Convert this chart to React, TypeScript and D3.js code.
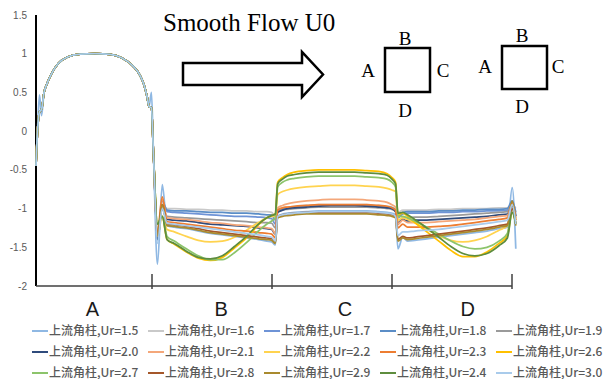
import React from 'react';
import * as d3 from 'd3';

// chart frame
const W = 604;
const H = 379;

// faces of the square cylinder along the x axis
const faceNames = ['A', 'B', 'C', 'D'];
const faceLabelPos = [0.47, 1.54, 2.57, 3.59];
const yTicks = [-2, -1.5, -1, -0.5, 0, 0.5, 1, 1.5];

// sample positions (fraction of a face)
const posA = [0, 0.0125, 0.029, 0.046, 0.067, 0.091, 0.125, 0.183, 0.258, 0.366, 0.49, 0.615, 0.715, 0.807, 0.865, 0.898, 0.923, 0.94, 0.96, 0.977];
const posFace = [0.01, 0.05, 0.09, 0.15, 0.25, 0.35, 0.45, 0.55, 0.65, 0.75, 0.85, 0.92, 0.96, 0.99];

// face A is nearly the same for every case
const faceA = [-0.45, 0.0, 0.25, 0.28, 0.5, 0.61, 0.73, 0.87, 0.955, 0.995, 1.0, 0.99, 0.945, 0.84, 0.72, 0.6, 0.45, 0.32, 0.3, -0.3];
const faceASpike = [-0.45, 0.0, 0.47, 0.2, 0.5, 0.61, 0.73, 0.87, 0.955, 0.995, 1.0, 0.99, 0.945, 0.84, 0.72, 0.6, 0.45, 0.32, 0.5, -0.3];

const seriesNames = [
  '上流角柱,Ur=1.5', '上流角柱,Ur=1.6', '上流角柱,Ur=1.7', '上流角柱,Ur=1.8', '上流角柱,Ur=1.9',
  '上流角柱,Ur=2.0', '上流角柱,Ur=2.1', '上流角柱,Ur=2.2', '上流角柱,Ur=2.3', '上流角柱,Ur=2.6',
  '上流角柱,Ur=2.7', '上流角柱,Ur=2.8', '上流角柱,Ur=2.9', '上流角柱,Ur=2.4', '上流角柱,Ur=3.0',
];
const seriesColors = [
  '#8FB8E3', '#C9C9C9', '#6E93D6', '#5B8DC6', '#9A9A9A',
  '#2F4B7C', '#F4A77A', '#FFD34F', '#ED7D31', '#FFC000',
  '#8CC46B', '#A5572A', '#A98A2E', '#5E8D3E', '#A9CBEB',
];

const faceAValues = [
  faceASpike, faceA, faceA, faceA, faceA,
  faceA, faceA, faceA, faceA, faceA,
  faceA, faceA, faceA, faceA, faceA,
];

const faceBValues = [
  [-1.72, -0.69, -1.22, -1.24, -1.26, -1.29, -1.32, -1.34, -1.36, -1.38, -1.4, -1.42, -1.43, -1.47],
  [-1.3, -0.95, -1.0, -1.0, -1.01, -1.01, -1.02, -1.02, -1.03, -1.03, -1.04, -1.04, -1.05, -1.1],
  [-1.35, -0.95, -1.04, -1.05, -1.06, -1.07, -1.08, -1.09, -1.1, -1.1, -1.11, -1.12, -1.13, -1.2],
  [-1.35, -0.9, -1.02, -1.03, -1.03, -1.04, -1.05, -1.05, -1.06, -1.06, -1.07, -1.08, -1.08, -1.15],
  [-1.4, -1.0, -1.1, -1.11, -1.12, -1.13, -1.14, -1.15, -1.16, -1.17, -1.18, -1.18, -1.19, -1.25],
  [-1.4, -1.0, -1.14, -1.15, -1.16, -1.18, -1.2, -1.21, -1.22, -1.23, -1.25, -1.26, -1.27, -1.33],
  [-1.35, -0.88, -1.12, -1.13, -1.14, -1.16, -1.18, -1.19, -1.21, -1.22, -1.24, -1.25, -1.26, -1.32],
  [-1.35, -1.1, -1.27, -1.3, -1.36, -1.41, -1.43, -1.42, -1.37, -1.28, -1.18, -1.12, -1.1, -1.1],
  [-1.3, -0.85, -1.17, -1.18, -1.2, -1.22, -1.24, -1.26, -1.28, -1.29, -1.31, -1.32, -1.33, -1.38],
  [-1.2, -1.1, -1.4, -1.46, -1.56, -1.64, -1.67, -1.63, -1.51, -1.38, -1.21, -1.12, -1.09, -1.07],
  [-1.2, -1.1, -1.36, -1.42, -1.52, -1.61, -1.66, -1.66, -1.57, -1.44, -1.29, -1.2, -1.16, -1.12],
  [-1.35, -0.95, -1.2, -1.21, -1.23, -1.26, -1.29, -1.31, -1.33, -1.35, -1.37, -1.38, -1.39, -1.43],
  [-1.35, -0.95, -1.22, -1.23, -1.25, -1.28, -1.31, -1.33, -1.35, -1.37, -1.39, -1.4, -1.41, -1.45],
  [-1.2, -1.1, -1.4, -1.45, -1.55, -1.63, -1.65, -1.61, -1.49, -1.36, -1.2, -1.12, -1.09, -1.07],
  [-1.45, -1.0, -1.19, -1.2, -1.22, -1.24, -1.26, -1.28, -1.3, -1.32, -1.34, -1.36, -1.37, -1.42],
];

const faceCValues = [
  [-1.1, -1.07, -1.06, -1.05, -1.04, -1.03, -1.03, -1.03, -1.03, -1.03, -1.04, -1.05, -1.06, -1.08],
  [-1.0, -0.99, -0.98, -0.97, -0.96, -0.95, -0.95, -0.95, -0.95, -0.95, -0.96, -0.97, -0.98, -1.0],
  [-1.03, -1.01, -1.0, -0.99, -0.98, -0.97, -0.97, -0.97, -0.97, -0.97, -0.98, -0.99, -1.0, -1.03],
  [-1.02, -1.0, -0.99, -0.98, -0.97, -0.96, -0.96, -0.96, -0.96, -0.96, -0.97, -0.98, -0.99, -1.02],
  [-1.04, -1.02, -1.01, -1.0, -0.99, -0.98, -0.98, -0.98, -0.98, -0.98, -0.99, -1.0, -1.01, -1.04],
  [-1.05, -1.02, -1.0, -0.99, -0.98, -0.97, -0.96, -0.96, -0.96, -0.97, -0.98, -0.99, -1.0, -1.04],
  [-0.99, -0.96, -0.94, -0.92, -0.9, -0.89, -0.88, -0.88, -0.88, -0.89, -0.9, -0.92, -0.95, -0.98],
  [-0.82, -0.78, -0.76, -0.74, -0.72, -0.71, -0.7, -0.7, -0.7, -0.71, -0.72, -0.74, -0.76, -0.78],
  [-1.02, -0.99, -0.98, -0.97, -0.96, -0.95, -0.95, -0.95, -0.95, -0.95, -0.96, -0.97, -0.99, -1.02],
  [-0.66, -0.6, -0.56, -0.53, -0.51, -0.5, -0.5, -0.5, -0.5, -0.51, -0.52, -0.55, -0.6, -0.66],
  [-0.72, -0.66, -0.63, -0.61, -0.59, -0.58, -0.58, -0.58, -0.58, -0.59, -0.6, -0.62, -0.66, -0.72],
  [-1.1, -1.08, -1.07, -1.06, -1.05, -1.05, -1.05, -1.05, -1.05, -1.05, -1.06, -1.07, -1.08, -1.1],
  [-1.12, -1.1, -1.09, -1.08, -1.07, -1.07, -1.07, -1.07, -1.07, -1.07, -1.08, -1.09, -1.1, -1.12],
  [-0.68, -0.62, -0.58, -0.56, -0.54, -0.53, -0.53, -0.53, -0.53, -0.54, -0.55, -0.57, -0.62, -0.68],
  [-1.1, -1.08, -1.07, -1.06, -1.05, -1.04, -1.04, -1.04, -1.04, -1.04, -1.05, -1.06, -1.07, -1.1],
];

const faceDValues = [
  [-1.52, -1.37, -1.42, -1.41, -1.39, -1.37, -1.35, -1.33, -1.31, -1.29, -1.26, -1.24, -0.73, -1.52],
  [-1.05, -1.02, -1.02, -1.02, -1.02, -1.01, -1.01, -1.0, -1.0, -1.0, -0.99, -0.99, -0.95, -1.0],
  [-1.12, -1.07, -1.06, -1.06, -1.06, -1.05, -1.05, -1.04, -1.04, -1.03, -1.03, -1.02, -0.95, -1.08],
  [-1.1, -1.05, -1.04, -1.04, -1.04, -1.03, -1.03, -1.02, -1.02, -1.01, -1.01, -1.0, -0.9, -1.05],
  [-1.18, -1.12, -1.12, -1.11, -1.11, -1.1, -1.09, -1.08, -1.07, -1.06, -1.05, -1.04, -0.95, -1.1],
  [-1.2, -1.14, -1.16, -1.15, -1.15, -1.14, -1.13, -1.12, -1.11, -1.1, -1.08, -1.07, -0.97, -1.1],
  [-1.2, -1.15, -1.18, -1.18, -1.18, -1.17, -1.16, -1.15, -1.14, -1.12, -1.1, -1.09, -0.95, -1.12],
  [-1.15, -1.12, -1.14, -1.18, -1.27, -1.35, -1.41, -1.43, -1.41, -1.36, -1.28, -1.22, -1.0, -1.15],
  [-1.25, -1.2, -1.24, -1.24, -1.24, -1.23, -1.22, -1.2, -1.18, -1.16, -1.14, -1.12, -0.92, -1.15],
  [-1.08, -1.06, -1.1, -1.18, -1.3, -1.42, -1.54, -1.62, -1.62, -1.56, -1.45, -1.35, -1.05, -1.2],
  [-1.1, -1.1, -1.12, -1.16, -1.24, -1.33, -1.42, -1.49, -1.52, -1.5, -1.42, -1.32, -1.0, -1.2],
  [-1.4, -1.36, -1.38, -1.37, -1.35, -1.33, -1.31, -1.29, -1.27, -1.25, -1.22, -1.2, -1.0, -1.2],
  [-1.42, -1.38, -1.4, -1.39, -1.37, -1.35, -1.33, -1.31, -1.29, -1.27, -1.24, -1.22, -0.9, -1.22],
  [-1.06, -1.05, -1.08, -1.14, -1.25, -1.37, -1.49, -1.58, -1.61, -1.58, -1.48, -1.38, -1.05, -1.2],
  [-1.35, -1.3, -1.3, -1.29, -1.28, -1.27, -1.25, -1.23, -1.21, -1.19, -1.17, -1.15, -0.95, -1.2],
];

const x = d3.scaleLinear().domain([0, 4]).range([36, 517]);
const xTick = d3.scaleLinear().domain([0, 4]).range([32, 512]);
const y = d3.scaleLinear().domain([-2, 1.5]).range([286, 15]);

const line = d3.line<[number, number]>()
  .x((d) => x(d[0]))
  .y((d) => y(d[1]))
  .curve(d3.curveMonotoneX);

function seriesPoints(i: number): [number, number][] {
  const pts: [number, number][] = posA.map((t, j) => [t, faceAValues[i][j]]);
  [faceBValues, faceCValues, faceDValues].forEach((face, f) => {
    posFace.forEach((t, j) => pts.push([f + 1 + t, face[i][j]]));
  });
  return pts;
}

export default function App() {
  const legendCol = 116;
  const legendRow = 21;
  return (
    <svg width={W} height={H} style={{ display: 'block', position: 'absolute', left: 0, top: 0 }}>
      <rect width={W} height={H} fill="#fff" />

      {/* y axis */}
      {yTicks.map((t) => (
        <text key={t} x={27} y={y(t)} dy="0.35em" textAnchor="end" fontSize={10}
          fontFamily="Liberation Sans, Arial, sans-serif" fill="#595959">{t}</text>
      ))}
      <line x1={36} x2={36} y1={y(1.5)} y2={y(-2)} stroke="#000" strokeWidth={2} />

      {/* x axis with face ticks */}
      <line x1={36} x2={xTick(4)} y1={y(-2)} y2={y(-2)} stroke="#404040" strokeWidth={1.5} />
      {[1, 2, 3, 4].map((t) => (
        <line key={t} x1={xTick(t)} x2={xTick(t)} y1={y(-2) - 12} y2={y(-2) + 3} stroke="#404040" strokeWidth={1.5} />
      ))}
      {faceNames.map((n, i) => (
        <text key={n} x={x(faceLabelPos[i])} y={316} textAnchor="middle" fontSize={20}
          fontFamily="Liberation Sans, Arial, sans-serif" fill="#1a1a1a">{n}</text>
      ))}

      {/* series */}
      {seriesNames.map((n, i) => (
        <path key={n} d={line(seriesPoints(i)) || ''} fill="none" stroke={seriesColors[i]}
          strokeWidth={1.75} strokeLinejoin="round" />
      ))}

      {/* flow sketch */}
      <text x={163} y={31} fontSize={25} fontFamily="Liberation Serif, Times New Roman, serif" fill="#000">Smooth Flow U0</text>
      <path d="M183,63 H302 V52 L323,74.5 L302,97 V85 H183 Z" fill="#fff" stroke="#000" strokeWidth={2.5} strokeLinejoin="miter" />
      <g fontFamily="Liberation Serif, Times New Roman, serif" fontSize={19} textAnchor="middle" fill="#000">
        <rect x={385} y={48} width={45} height={44} fill="none" stroke="#000" strokeWidth={2.5} />
        <text x={405} y={45}>B</text>
        <text x={368} y={77}>A</text>
        <text x={443} y={77}>C</text>
        <text x={405} y={117}>D</text>
        <rect x={502} y={46} width={45} height={43} fill="none" stroke="#000" strokeWidth={2.5} />
        <text x={522} y={42}>B</text>
        <text x={485} y={73}>A</text>
        <text x={558} y={73}>C</text>
        <text x={522} y={113}>D</text>
      </g>

      {/* legend */}
      {seriesNames.map((n, i) => {
        const col = i % 5;
        const row = Math.floor(i / 5);
        const tx = 49 + col * legendCol;
        const ty = 331 + row * legendRow;
        return (
          <g key={n}>
            <line x1={tx - 17} x2={tx - 1} y1={ty} y2={ty} stroke={seriesColors[i]} strokeWidth={2} />
            <text x={tx} y={ty} dy="0.36em" fontSize={12} fill="#595959" fontWeight={500}
              fontFamily="Noto Sans CJK SC, Noto Sans, sans-serif">{n}</text>
          </g>
        );
      })}
    </svg>
  );
}
